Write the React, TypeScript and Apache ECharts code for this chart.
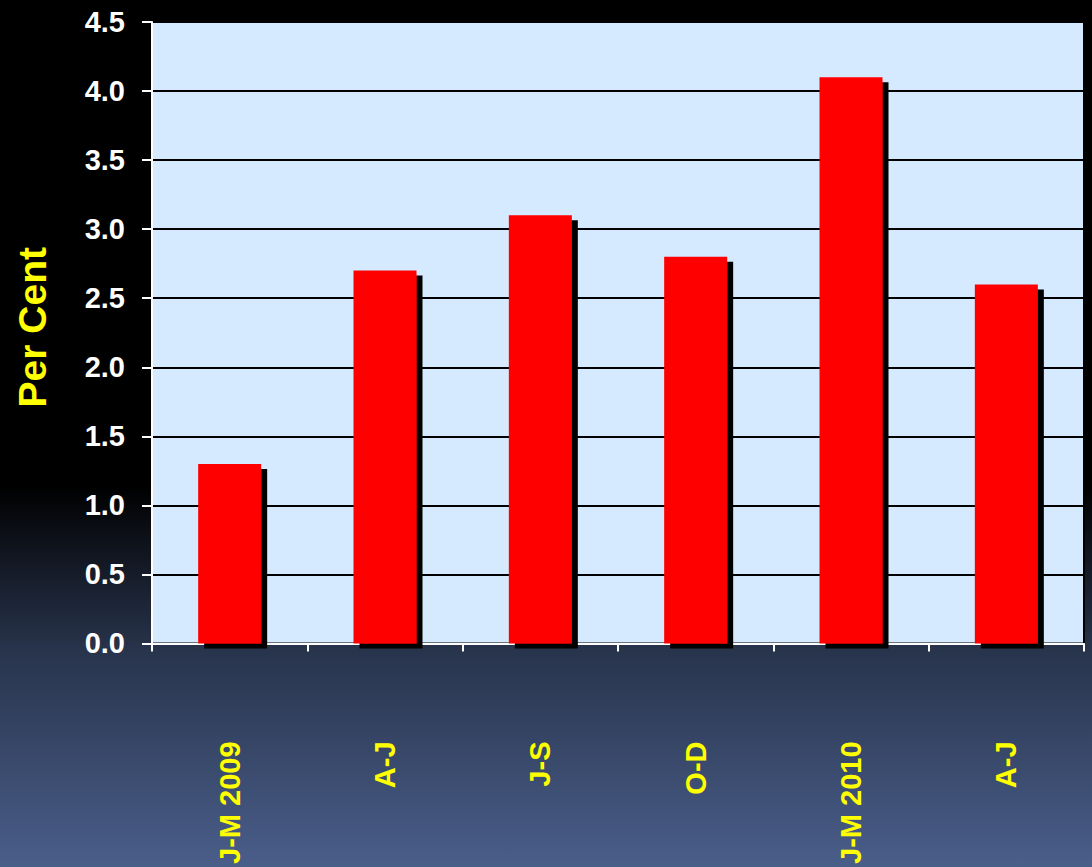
import React, { useEffect, useRef } from "react";
import * as echarts from "echarts";

const categories = ["J-M 2009", "A-J", "J-S", "O-D", "J-M 2010", "A-J"];
const values = [1.3, 2.7, 3.1, 2.8, 4.1, 2.6];
const yAxisName = "Per Cent";

export default function App() {
  const ref = useRef<HTMLDivElement>(null);
  useEffect(() => {
    if (!ref.current) return;
    const chart = echarts.init(ref.current, null, { renderer: "svg" });
    chart.setOption({
      animation: false,
      backgroundColor: {
        type: "linear",
        x: 0,
        y: 0,
        x2: 0,
        y2: 1,
        colorStops: [
          { offset: 0, color: "#000000" },
          { offset: 0.56, color: "#000000" },
          { offset: 0.75, color: "#28344c" },
          { offset: 1, color: "#4a5e8a" },
        ],
      },
      grid: {
        left: 152,
        top: 22,
        width: 932,
        bottom: 222,
        show: true,
        backgroundColor: "#d6eaff",
        borderColor: "#000000",
        borderWidth: 2,
      },
      xAxis: {
        type: "category",
        data: categories,
        offset: 2,
        axisLine: { show: true, lineStyle: { color: "#ffffff", width: 2 } },
        axisTick: { show: true, length: 8, lineStyle: { color: "#ffffff", width: 2 } },
        axisLabel: {
          rotate: 90,
          margin: 96,
          color: "#ffff00",
          fontSize: 29,
          fontWeight: "bold",
          fontFamily: "Liberation Sans, Arial, sans-serif",
          interval: 0,
        },
      },
      yAxis: {
        type: "value",
        min: 0,
        max: 4.5,
        interval: 0.5,
        name: yAxisName,
        nameLocation: "middle",
        nameRotate: 90,
        nameGap: 100,
        nameTextStyle: {
          color: "#ffff00",
          fontSize: 39,
          fontWeight: "bold",
          fontFamily: "Liberation Sans, Arial, sans-serif",
          padding: [0, 0, 0, 11],
        },
        axisLine: { show: true, lineStyle: { color: "#ffffff", width: 2 } },
        axisTick: { show: true, length: 10, lineStyle: { color: "#ffffff", width: 2 } },
        axisLabel: {
          margin: 27,
          color: "#ffffff",
          fontSize: 29,
          fontWeight: "bold",
          fontFamily: "Liberation Sans, Arial, sans-serif",
          formatter: (v: number) => v.toFixed(1),
        },
        splitLine: { show: true, lineStyle: { color: "#000000", width: 2 } },
      },
      series: [
        {
          type: "bar",
          data: values,
          barWidth: 63,
          itemStyle: {
            color: "#ff0000",
            shadowColor: "#000000",
            shadowBlur: 0,
            shadowOffsetX: 6,
            shadowOffsetY: 5,
          },
        },
      ],
    });
    return () => chart.dispose();
  }, []);
  return (
    <div
      ref={ref}
      style={{ position: "absolute", left: 0, top: 0, width: 1092, height: 867 }}
    />
  );
}
